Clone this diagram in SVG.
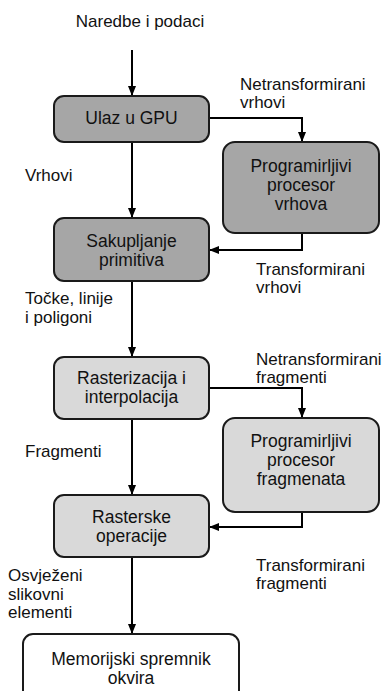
<svg xmlns="http://www.w3.org/2000/svg" width="382" height="691" viewBox="0 0 382 691">
<style>
text{font-family:"Liberation Sans",Arial,sans-serif;fill:#111}
.lbl{font-size:17px}
.bt{font-size:17.5px;text-anchor:middle}
.box{stroke:#1a1a1a;stroke-width:2}
.dark{fill:#a6a6a6}
.light{fill:#d9d9d9}
.white{fill:#ffffff}
.con{fill:none;stroke:#000;stroke-width:2}
</style>
<defs>
<marker id="ah" markerUnits="userSpaceOnUse" markerWidth="10" markerHeight="8" refX="10" refY="4" orient="auto">
<path d="M0,0 L10,4 L0,8 z" fill="#000"/>
</marker>
</defs>
<g id="labels">
<text class="lbl" x="140" y="27" text-anchor="middle">Naredbe i podaci</text>
<text class="lbl" x="240" y="90">Netransformirani</text>
<text class="lbl" x="240" y="108">vrhovi</text>
<text class="lbl" x="25" y="181">Vrhovi</text>
<text class="lbl" x="256" y="275">Transformirani</text>
<text class="lbl" x="256" y="293">vrhovi</text>
<text class="lbl" x="25" y="304">Točke, linije</text>
<text class="lbl" x="25" y="323">i poligoni</text>
<text class="lbl" x="256" y="365">Netransformirani</text>
<text class="lbl" x="256" y="383">fragmenti</text>
<text class="lbl" x="25" y="457">Fragmenti</text>
<text class="lbl" x="256" y="571">Transformirani</text>
<text class="lbl" x="256" y="589">fragmenti</text>
<text class="lbl" x="8" y="581">Osvježeni</text>
<text class="lbl" x="8" y="600">slikovni</text>
<text class="lbl" x="8" y="618">elementi</text>
</g>
<g id="connectors">
<path class="con" d="M132,50 V96" marker-end="url(#ah)"/>
<path class="con" d="M209,118 H302 V142" marker-end="url(#ah)"/>
<path class="con" d="M132,142 V218" marker-end="url(#ah)"/>
<path class="con" d="M302,233 V250 H209" marker-end="url(#ah)"/>
<path class="con" d="M132,281 V357" marker-end="url(#ah)"/>
<path class="con" d="M209,388 H302 V418" marker-end="url(#ah)"/>
<path class="con" d="M132,419 V495" marker-end="url(#ah)"/>
<path class="con" d="M302,512 V527 H209" marker-end="url(#ah)"/>
<path class="con" d="M132,557 V634" marker-end="url(#ah)"/>
</g>
<g id="ulaz">
<rect class="box dark" x="54" y="96" width="155" height="46" rx="10"/>
<text class="bt" x="131.5" y="124">Ulaz u GPU</text>
</g>
<g id="procesor-vrhova">
<rect class="box dark" x="223" y="142" width="156" height="91" rx="12"/>
<text class="bt" x="301" y="172">Programirljivi</text>
<text class="bt" x="301" y="191">procesor</text>
<text class="bt" x="301" y="210">vrhova</text>
</g>
<g id="sakupljanje">
<rect class="box dark" x="54" y="218" width="155" height="63" rx="10"/>
<text class="bt" x="131.5" y="247">Sakupljanje</text>
<text class="bt" x="131.5" y="266">primitiva</text>
</g>
<g id="rasterizacija">
<rect class="box light" x="54" y="357" width="155" height="62" rx="10"/>
<text class="bt" x="131.5" y="384">Rasterizacija i</text>
<text class="bt" x="131.5" y="403">interpolacija</text>
</g>
<g id="procesor-fragmenata">
<rect class="box light" x="223" y="418" width="156" height="94" rx="12"/>
<text class="bt" x="301" y="447">Programirljivi</text>
<text class="bt" x="301" y="466">procesor</text>
<text class="bt" x="301" y="485">fragmenata</text>
</g>
<g id="rasterske">
<rect class="box light" x="54" y="495" width="155" height="62" rx="10"/>
<text class="bt" x="131.5" y="523">Rasterske</text>
<text class="bt" x="131.5" y="542">operacije</text>
</g>
<g id="memorijski">
<rect class="box white" x="23" y="634" width="216" height="70" rx="10"/>
<text class="bt" x="131" y="665">Memorijski spremnik</text>
<text class="bt" x="131" y="684">okvira</text>
</g>
</svg>
